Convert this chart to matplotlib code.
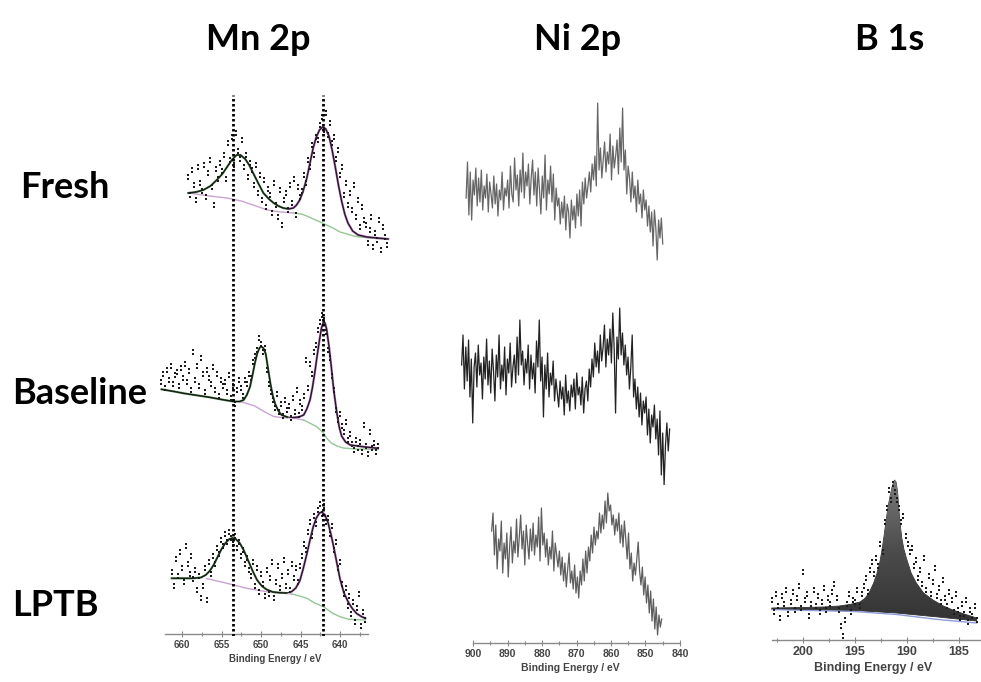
import numpy as np
import matplotlib
matplotlib.use("Agg")
import matplotlib.pyplot as plt
from matplotlib.patches import Polygon
from matplotlib.path import Path
from matplotlib.colors import LinearSegmentedColormap
from matplotlib.ticker import FixedLocator

plt.rcParams['font.family'] = ['Liberation Sans', 'DejaVu Sans']

W, H = 981, 682

# ---------------- Mn 2p data (intensity, a.u.) ----------------
# Fresh
mn_fresh_ev = [659.2, 634.0]
mn_fresh_pts = [78, 60, 85, 70, 55, 88, 72, 64, 90,
                58, 82, 95, 68, 50, 86, 76, 92,
                84, 100, 76, 112, 95, 118, 90, 122,
                104, 96, 115, 88, 100, 78, 92, 85,
                70, 90, 62, 80, 55, 75, 48, 66,
                60, 42, 72, 50, 38, 65, 30, 55,
                62, 45, 70, 52, 76, 40, 68, 58,
                64, 80, 72, 95, 88, 110, 100, 118,
                115, 130, 138, 125, 142, 120, 132, 112,
                118, 96, 105, 80, 88, 60, 72, 50,
                62, 45, 70, 38, 55, 28, 48, 35,
                30, 12, 25, 38, 8, 22, 15, 35, 5, 28, 18, 10]
mn_fresh_fit_ev = [659.2, 658.2, 657.3, 656.4, 655.6, 654.9, 654.3, 653.7, 653.1, 652.6, 652.0,
                   651.5, 651.0, 650.3, 649.7, 649.0, 648.4, 647.8, 647.2, 646.5, 645.9, 645.5,
                   645.1, 644.7, 644.2, 643.8, 643.4, 643.0, 642.6, 642.2, 641.8, 641.4, 641.0,
                   640.6, 640.2, 639.8, 639.4, 639.0, 638.4, 637.7, 636.6, 635.3, 633.9]
mn_fresh_fit = [62, 63, 65, 69, 75, 81, 88, 95, 100, 100, 96,
                90, 82, 71, 62, 56, 52, 49, 47, 46, 47, 50,
                55, 63, 77, 92, 107, 118, 125, 128, 126, 119, 105,
                88, 70, 54, 41, 32, 24, 20, 18, 17, 16]
mn_fresh_bg_ev = [659.2, 656.5, 654.3, 652.5, 651.0, 649.2, 647.5, 645.9, 644.9, 644.2,
                  643.4, 642.5, 641.7, 640.9, 640.0, 639.1, 638.3, 637.5, 635.5, 633.9]
mn_fresh_bg = [62, 59, 57, 54, 50, 45, 43, 42, 41, 39,
               36, 33, 30, 27, 23, 21, 19, 18, 16.5, 16]

# Baseline
mn_base_ev = [662.6, 635.2]
mn_base_pts = [88, 96, 82, 100, 90, 104, 86, 95,
               98, 84, 102, 92, 106, 88, 99, 80,
               118, 90, 104, 84, 112, 96, 78, 100,
               92, 86, 103, 80, 96, 74, 90, 84,
               88, 78, 95, 72, 84, 66, 80, 90,
               82, 74, 90, 86, 96, 92, 108, 114,
               120, 132, 126, 118, 122, 100, 86, 78,
               70, 62, 76, 58, 66, 54, 70, 60,
               64, 52, 72, 58, 80, 55, 68, 62,
               74, 110, 82, 106, 96, 118, 125, 140,
               148, 155, 150, 138, 120, 112, 94, 80,
               60, 50, 56, 44, 38, 48, 30, 36,
               26, 20, 30, 22, 28, 18, 45, 24, 16, 38, 22, 27, 18, 24]
mn_base_fit_ev = [662.6, 661.0, 659.8, 658.0, 656.5, 655.0, 653.5, 652.7, 652.2, 651.8, 651.4,
                  651.1, 650.8, 650.5, 650.2, 650.0, 649.7, 649.4, 649.1, 648.8, 648.5, 648.2,
                  647.8, 647.4, 646.7, 645.9, 645.2, 644.6, 644.2, 643.8, 643.5, 643.2, 642.9,
                  642.6, 642.35, 642.1, 641.9, 641.7, 641.4, 641.1, 640.8, 640.4, 640.1, 639.8,
                  639.3, 638.7, 637.1, 635.2]
mn_base_fit = [80.7, 78.5, 76.7, 74.5, 72.7, 70.5, 68.5, 68.5, 70, 75, 83,
               94, 106, 116, 122, 123.5, 122, 116, 101, 86, 74, 66,
               59, 55, 53, 52.5, 53, 55, 61, 70, 82, 97, 114,
               130, 142, 148, 147, 141, 124, 103, 80, 57, 43, 34,
               28, 25, 23.3, 21.7]
mn_base_bg_ev = [652.7, 652.2, 651.4, 650.8, 649.5, 648.4, 647.4, 645.9, 644.6, 643.6, 642.9,
                 642.1, 641.6, 641.1, 640.4, 639.6, 638.0, 635.2]
mn_base_bg = [68.5, 67.5, 65.5, 64, 58, 53.5, 52.5, 52, 50, 46, 43,
              37, 31, 27, 24, 22, 21, 20.7]

# LPTB
mn_lptb_ev = [661.3, 636.8]
mn_lptb_pts = [62, 48, 75, 58, 82, 66, 52, 88,
               70, 60, 78, 55, 64, 44, 58, 36,
               48, 66, 34, 72, 60, 78, 70, 86,
               80, 94, 88, 100, 92, 102, 96, 90,
               98, 86, 92, 78, 84, 70, 76, 64,
               58, 72, 48, 66, 42, 60, 50, 38,
               64, 40, 56, 72, 36, 52, 68, 46,
               58, 74, 48, 62, 44, 70, 56, 66,
               52, 68, 78, 90, 84, 102, 112, 98,
               118, 110, 124, 130, 120, 128, 112, 116,
               100, 108, 84, 92, 66, 72, 50, 40,
               46, 28, 38, 20, 32, 12, 26, 40, 8, 22, 14]
mn_lptb_fit_ev = [661.3, 658.6, 657.6, 657.0, 656.5, 656.0, 655.5, 655.0, 654.5, 654.0, 653.6,
                  653.2, 652.7, 652.2, 651.6, 651.0, 650.5, 649.9, 649.3, 648.5, 647.6, 646.8,
                  646.1, 645.6, 645.1, 644.7, 644.2, 643.8, 643.4, 643.0, 642.6, 642.3, 641.9,
                  641.5, 641.1, 640.8, 640.4, 640.0, 639.5, 638.9, 638.4, 637.9, 637.3, 636.8]
mn_lptb_fit = [55.7, 55.7, 56.5, 59, 63, 69, 77, 85, 91, 95, 96,
               95, 91, 84, 73, 62, 54, 48, 44.5, 42, 41.3, 41,
               42.5, 46, 53, 64, 80, 94, 107, 116, 121, 122, 119,
               111, 98, 87, 71, 55, 41, 31, 25, 20.5, 17.5, 15.7]
mn_lptb_bg_ev = [656.9, 654.3, 651.8, 649.3, 647.6, 646.1, 645.1, 644.2, 643.2, 642.1,
                 641.0, 640.0, 638.9, 636.8]
mn_lptb_bg = [55.5, 50.7, 45.7, 42.3, 41, 40, 38, 35.7, 31, 27.3,
              21, 17.3, 14.7, 14]

mn_markers = [653.5, 642.2]
mn_ticks = [660, 655, 650, 645, 640]
mn_minor = [657.5, 652.5, 647.5, 642.5, 637.5]

# ---------------- Ni 2p data ----------------
ni_fresh_ev = [902.0, 845.0]
ni_fresh = [92, 128, 75, 118, 70, 110, 95, 122, 84, 112,
            88, 120, 80, 104, 92, 116, 78, 108, 96, 82,
            114, 86, 106, 74, 100, 90, 118, 80, 102, 94,
            110, 82, 124, 96, 88, 132, 100, 115, 84, 120,
            98, 137, 92, 118, 104, 126, 86, 112, 130, 95,
            118, 84, 122, 100, 76, 114, 92, 135, 80, 110,
            96, 124, 88, 116, 70, 102, 84, 92, 66, 88,
            72, 94, 60, 86, 78, 52, 90, 70, 84, 62,
            96, 74, 100, 64, 108, 86, 112, 92, 104, 118,
            98, 126, 110, 134, 104, 187, 120, 142, 112, 130,
            148, 118, 138, 126, 156, 110, 144, 122, 134, 150,
            116, 162, 128, 182, 120, 140, 96, 124, 112, 88,
            118, 92, 104, 78, 110, 86, 96, 72, 100, 80,
            90, 64, 84, 58, 78, 44, 80, 62, 30, 70,
            52, 72, 46]
ni_base_ev = [903.3, 843.0]
ni_base = [120, 150, 96, 138, 104, 145, 88, 126, 62, 118,
           132, 98, 140, 110, 122, 86, 128, 106, 146, 100,
           124, 92, 136, 114, 84, 130, 108, 150, 96, 120,
           104, 138, 90, 126, 112, 142, 98, 118, 130, 102,
           148, 110, 165, 120, 134, 100, 126, 112, 140, 96,
           130, 106, 122, 92, 144, 118, 165, 104, 128, 68,
           120, 96, 132, 88, 112, 100, 124, 84, 106, 92,
           78, 104, 86, 98, 70, 110, 82, 94, 74, 100,
           88, 106, 76, 112, 90, 98, 80, 108, 72, 96,
           104, 84, 116, 98, 126, 108, 142, 118, 134, 112,
           150, 124, 138, 160, 118, 146, 130, 156, 122, 172,
           136, 72, 148, 126, 177, 130, 152, 120, 140, 110,
           128, 96, 118, 150, 88, 106, 76, 98, 68, 92,
           60, 84, 72, 88, 50, 76, 42, 70, 58, 80,
           46, 66, 30, 74, 10, 52, 0, 40, 62, 34,
           56]
ni_lptb_ev = [894.6, 845.3]
ni_lptb = [112, 130, 88, 118, 74, 104, 92, 122, 70, 100,
           84, 110, 66, 96, 116, 80, 102, 90, 124, 86,
           106, 128, 94, 112, 78, 118, 100, 84, 114, 92,
           120, 88, 108, 96, 126, 82, 135, 98, 110, 86,
           104, 78, 96, 84, 112, 72, 100, 88, 76, 92,
           68, 86, 62, 80, 56, 74, 90, 60, 72, 54,
           78, 50, 66, 45, 72, 58, 84, 62, 92, 70,
           96, 82, 108, 90, 116, 98, 112, 104, 130, 110,
           128, 114, 142, 120, 150, 132, 138, 118, 128, 108,
           124, 112, 130, 100, 118, 96, 122, 104, 84, 110,
           74, 90, 62, 80, 68, 84, 101, 72, 58, 76,
           48, 66, 40, 58, 30, 52, 22, 44, 14, 36,
           8, 28, 16, 24]
ni_ticks = [900, 890, 880, 870, 860, 850, 840]
ni_minor = [895, 885, 875, 865, 855, 845]

# ---------------- B 1s data (LPTB only) ----------------
b_ev = [203.0, 183.3]
b_pts = [40, 28, 46, 34, 22, 44, 36, 50, 26, 38,
         48, 30, 42, 54, 32, 68, 40, 46, 24, 36,
         50, 34, 44, 28, 38, 52, 30, 42, 36, 48,
         56, 42, 30, 14, 4, 20, 36, 46, 28, 40,
         38, 50, 34, 46, 54, 62, 48, 70, 78, 66,
         82, 74, 96, 88, 118, 132, 150, 140, 156, 148,
         140, 132, 118, 124, 104, 96, 88, 92, 74, 80,
         62, 70, 56, 82, 50, 64, 46, 58, 72, 44,
         52, 38, 60, 42, 34, 48, 40, 28, 46, 30,
         22, 36, 26, 40, 18, 30, 24, 34, 20]
b_fit_ev = [203.0, 200.0, 198.0, 196.5, 195.5, 194.5, 194.0, 193.6, 193.2, 192.9, 192.6,
            192.4, 192.2, 192.0, 191.8, 191.6, 191.4, 191.2, 191.05, 190.9, 190.7, 190.5,
            190.3, 190.0, 189.6, 189.1, 188.4, 187.5, 186.5, 185.6, 184.5, 183.3]
b_fit = [32, 32.5, 33, 34, 35.5, 38, 42, 48, 57, 66, 78,
         90, 104, 120, 134, 145, 154, 160, 158, 148, 120, 102,
         91, 80, 67, 57, 47, 40, 34, 30, 26, 22]
b_bg_ev = [203.0, 195.0, 191.0, 187.0, 183.3]
b_bg = [31, 29.5, 27, 23, 19]
b_blue = [30.5, 28.5, 25.5, 20.5, 17]
b_ticks = [200, 195, 190, 185]
b_minor = [202.5, 197.5, 192.5, 187.5]

# two little stacked dots, like the printed data points
colon = Path([(-0.4, 0.2), (0.4, 0.2), (0.4, 1.0), (-0.4, 1.0), (-0.4, 0.2),
              (-0.4, -1.0), (0.4, -1.0), (0.4, -0.2), (-0.4, -0.2), (-0.4, -1.0)],
             [Path.MOVETO, Path.LINETO, Path.LINETO, Path.LINETO, Path.CLOSEPOLY,
              Path.MOVETO, Path.LINETO, Path.LINETO, Path.LINETO, Path.CLOSEPOLY])
DOT = dict(marker=colon, ls='none', color='#1c1c1c', ms=4.0, mew=0)


def px_axes(x0, y0, x1, y1):
    return fig.add_axes([x0 / W, 1 - y1 / H, (x1 - x0) / W, (y1 - y0) / H])


def bare(ax):
    for s in ax.spines.values():
        s.set_visible(False)
    ax.set_xticks([])
    ax.set_yticks([])
    ax.patch.set_alpha(0)


def bottom_axis(ax, bounds, major, minor, size):
    bare(ax)
    ax.spines['bottom'].set_visible(True)
    ax.spines['bottom'].set_bounds(*bounds)
    ax.spines['bottom'].set_color('#8a8a8a')
    ax.spines['bottom'].set_linewidth(1.0)
    ax.xaxis.set_major_locator(FixedLocator(major))
    ax.xaxis.set_minor_locator(FixedLocator(minor))
    ax.tick_params(axis='x', which='both', direction='inout', colors='#8a8a8a',
                   labelcolor='#444444', labelsize=size, pad=2, width=0.8)
    ax.tick_params(axis='x', which='major', length=4)
    ax.tick_params(axis='x', which='minor', length=3)
    for lbl in ax.get_xticklabels():
        lbl.set_fontweight('bold')
    ax.set_xlabel('Binding Energy / eV', fontsize=size, fontweight='bold',
                  color='#444444', labelpad=3)


def mn_panel(ax, ev_range, pts, fit_ev, fit, bg_ev, bg, pink_to, bg_from):
    fit_ev = np.array(fit_ev)
    fit = np.array(fit)
    bg_ev = np.array(bg_ev)
    bg = np.array(bg)
    pink = (bg_ev >= pink_to) & (bg_ev <= bg_from)
    green = bg_ev <= pink_to
    ax.plot(bg_ev[pink], bg[pink], color='#c9a3d4', lw=1.0)
    ax.plot(bg_ev[green], bg[green], color='#95c795', lw=1.0)
    left = fit_ev >= 646.5
    right = fit_ev <= 646.5
    ax.plot(fit_ev[left], fit[left], color='#3b6b3b', lw=1.5)
    ax.plot(fit_ev[right], fit[right], color='#9a5aa0', lw=1.6)
    ax.plot(fit_ev, fit, color='#111111', lw=0.7)
    x = np.linspace(ev_range[0], ev_range[1], len(pts))
    ax.plot(x, pts, **DOT)


fig = plt.figure(figsize=(W / 100, H / 100), dpi=100)

# Mn column: eV = 660 - (x - 182) / 7.9
mn_xlim = (663.04, 633.42)
ax1 = px_axes(158, 95, 392, 255)
ax2 = px_axes(158, 255, 392, 470)
ax3 = px_axes(158, 470, 392, 634)
for ax, hgt in [(ax1, 160), (ax2, 215), (ax3, 164)]:
    ax.set_xlim(*mn_xlim)
    ax.set_ylim(0, hgt)
    bare(ax)
mn_panel(ax1, mn_fresh_ev, mn_fresh_pts, mn_fresh_fit_ev, mn_fresh_fit,
         mn_fresh_bg_ev, mn_fresh_bg, 645.9, 660)
mn_panel(ax2, mn_base_ev, mn_base_pts, mn_base_fit_ev, mn_base_fit,
         mn_base_bg_ev, mn_base_bg, 644.6, 660)
mn_panel(ax3, mn_lptb_ev, mn_lptb_pts, mn_lptb_fit_ev, mn_lptb_fit,
         mn_lptb_bg_ev, mn_lptb_bg, 646.1, 660)
bottom_axis(ax3, (662.15, 636.4), mn_ticks, mn_minor, 7)

axd = px_axes(158, 95, 392, 636)
axd.set_xlim(*mn_xlim)
axd.set_ylim(0, 1)
bare(axd)
for e in mn_markers:
    axd.axvline(e, color='black', lw=2.0, ls=(0, (0.9, 0.9)))

# Ni column: eV = 900 - (x - 473) / 3.45
ni_xlim = (905.22, 838.55)
n1 = px_axes(455, 95, 685, 290)
n2 = px_axes(455, 290, 685, 485)
n3 = px_axes(455, 485, 685, 643)
for ax, hgt, rng, vals, col in [(n1, 195, ni_fresh_ev, ni_fresh, '#666666'),
                                (n2, 195, ni_base_ev, ni_base, '#222222'),
                                (n3, 158, ni_lptb_ev, ni_lptb, '#5e5e5e')]:
    ax.set_xlim(*ni_xlim)
    ax.set_ylim(0, hgt)
    bare(ax)
    ax.plot(np.linspace(rng[0], rng[1], len(vals)), vals, color=col, lw=0.9)
bottom_axis(n3, (900, 840), ni_ticks, ni_minor, 7.5)

# B column: eV = 200 - (x - 803) / 10.4
b_xlim = (203.65, 182.88)
b3 = px_axes(765, 470, 981, 640)
b3.set_xlim(*b_xlim)
b3.set_ylim(0, 170)
bare(b3)
verts = list(zip(b_fit_ev, b_fit)) + list(zip(b_bg_ev[::-1], b_bg[::-1]))
poly = Polygon(verts, closed=True, facecolor='none', edgecolor='#2a2a2a', lw=0.6)
b3.add_patch(poly)
cmap = LinearSegmentedColormap.from_list('peak', ['#333333', '#4c4c4c', '#7a7a7a'])
grad = np.linspace(0, 1, 256).reshape(-1, 1)
im = b3.imshow(grad, cmap=cmap, origin='lower', aspect='auto',
               extent=[b_xlim[0], b_xlim[1], 18, 162], zorder=2)
im.set_clip_path(poly)
b3.plot(b_bg_ev, b_blue, color='#8f9bd8', lw=1.0, zorder=1)
b3.plot(np.linspace(b_ev[0], b_ev[1], len(b_pts)), b_pts, zorder=3, **DOT)
b3.set_xlim(*b_xlim)
b3.set_ylim(0, 170)
bottom_axis(b3, (203.0, 182.88), b_ticks, b_minor, 9)

# titles and row labels
big = dict(family=['Lato', 'DejaVu Sans'], fontweight='bold', fontsize=26,
           va='center', color='black')
for txt, x in [('Mn 2p', 258), ('Ni 2p', 578), ('B 1s', 890)]:
    fig.text(x / W, 1 - 40 / H, txt, ha='center', **big)
for txt, x, y in [('Fresh', 20, 187), ('Baseline', 12, 393), ('LPTB', 12, 605)]:
    fig.text(x / W, 1 - y / H, txt, ha='left', **big)

fig.savefig('out.png', dpi=100, facecolor='white')
